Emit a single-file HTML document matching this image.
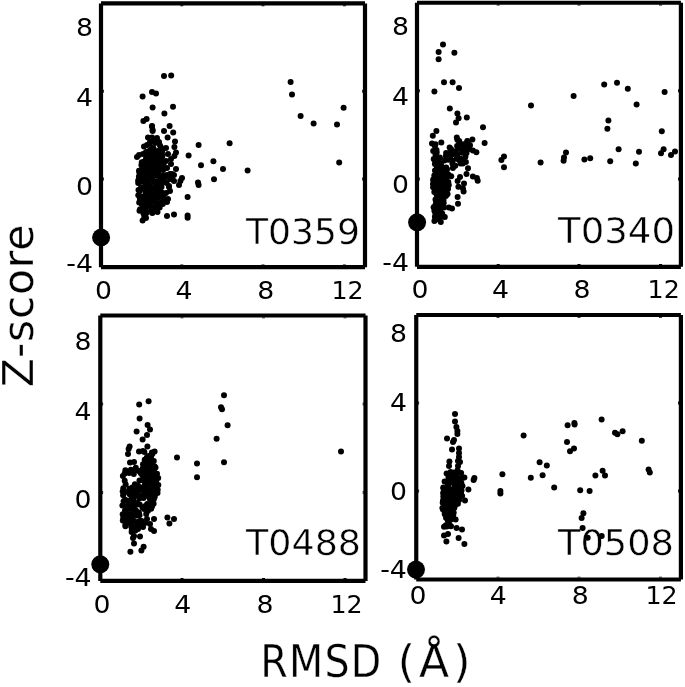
<!DOCTYPE html>
<html lang="en">
<head>
<meta charset="utf-8">
<title>Z-score vs RMSD</title>
<style>
html,body{margin:0;padding:0;background:#fff;}
body{width:685px;height:687px;overflow:hidden;}
svg{display:block;}
text{font-family:"DejaVu Sans", "Liberation Sans", sans-serif;fill:#000;}
.p{stroke:#fff;stroke-width:0.45px;}
.q{stroke:#fff;stroke-width:0.3px;}
.c{font-family:"DejaVu Sans Condensed","DejaVu Sans","Liberation Sans",sans-serif;}
.f{fill:none;stroke:#000;stroke-width:4.2;stroke-linejoin:miter;}
</style>
</head>
<body>
<svg width="685" height="687" viewBox="0 0 685 687">
<rect x="0" y="0" width="685" height="687" fill="#fff"/>
<path class="f" d="M101.0 3.4H365.0M365.0 3.4V267.2M365.0 267.2H101.0M101.0 267.2V3.4"/>
<path d="M181.8 265.3v-0.9M181.8 5.3v0.9M263 265.3v-0.9M263 5.3v0.9M344.4 265.3v-0.9M344.4 5.3v0.9M102.9 91.2h0.9M363.1 91.2h-0.9M102.9 179h0.9M363.1 179h-0.9" fill="none" stroke="#000" stroke-width="3"/>
<path class="f" d="M417.0 2.75H680.9M680.9 2.75V266.8M680.9 266.8H417.0M417.0 266.8V2.75"/>
<path d="M498.2 264.9v-0.9M498.2 4.6v0.9M579 264.9v-0.9M579 4.6v0.9M660.5 264.9v-0.9M660.5 4.6v0.9M418.9 90.7h0.9M679.0 90.7h-0.9M418.9 179h0.9M679.0 179h-0.9" fill="none" stroke="#000" stroke-width="3"/>
<path class="f" d="M100.3 315.5H365.5M365.5 315.5V580.9M365.5 580.9H100.3M100.3 580.9V315.5"/>
<path d="M182 579.0v-0.9M182 317.4v0.9M263.5 579.0v-0.9M263.5 317.4v0.9M345 579.0v-0.9M345 317.4v0.9M102.2 404h0.9M363.6 404h-0.9M102.2 492.4h0.9M363.6 492.4h-0.9" fill="none" stroke="#000" stroke-width="3"/>
<path class="f" d="M416.25 315.0H680.9M680.9 315.0V579.5M680.9 579.5H416.25M416.25 579.5V315.0"/>
<path d="M498 577.6v-0.9M498 316.9v0.9M579 577.6v-0.9M579 316.9v0.9M660.5 577.6v-0.9M660.5 316.9v0.9M418.2 403h0.9M679.0 403h-0.9M418.2 491h0.9M679.0 491h-0.9" fill="none" stroke="#000" stroke-width="3"/>
<text x="93.0" y="36.4" font-size="24.8" text-anchor="end" textLength="17.0" lengthAdjust="spacingAndGlyphs">8</text>
<text x="93.0" y="105.6" font-size="24.8" text-anchor="end" textLength="17.0" lengthAdjust="spacingAndGlyphs">4</text>
<text x="93.0" y="194.7" font-size="24.8" text-anchor="end" textLength="17.0" lengthAdjust="spacingAndGlyphs">0</text>
<text x="93.0" y="272.3" font-size="24.8" text-anchor="end" textLength="26.7" lengthAdjust="spacingAndGlyphs">-4</text>
<text x="409.0" y="35.2" font-size="24.8" text-anchor="end" textLength="17.0" lengthAdjust="spacingAndGlyphs">8</text>
<text x="409.0" y="104.7" font-size="24.8" text-anchor="end" textLength="17.0" lengthAdjust="spacingAndGlyphs">4</text>
<text x="409.0" y="193.4" font-size="24.8" text-anchor="end" textLength="17.0" lengthAdjust="spacingAndGlyphs">0</text>
<text x="409.0" y="270.8" font-size="24.8" text-anchor="end" textLength="26.7" lengthAdjust="spacingAndGlyphs">-4</text>
<text x="91.6" y="350.2" font-size="24.8" text-anchor="end" textLength="17.0" lengthAdjust="spacingAndGlyphs">8</text>
<text x="91.6" y="419.5" font-size="24.8" text-anchor="end" textLength="17.0" lengthAdjust="spacingAndGlyphs">4</text>
<text x="91.6" y="508.2" font-size="24.8" text-anchor="end" textLength="17.0" lengthAdjust="spacingAndGlyphs">0</text>
<text x="91.6" y="586.3" font-size="24.8" text-anchor="end" textLength="26.7" lengthAdjust="spacingAndGlyphs">-4</text>
<text x="406.9" y="341.5" font-size="24.8" text-anchor="end" textLength="17.0" lengthAdjust="spacingAndGlyphs">8</text>
<text x="406.9" y="410.8" font-size="24.8" text-anchor="end" textLength="17.0" lengthAdjust="spacingAndGlyphs">4</text>
<text x="406.9" y="499.6" font-size="24.8" text-anchor="end" textLength="17.0" lengthAdjust="spacingAndGlyphs">0</text>
<text x="406.9" y="578.0" font-size="24.8" text-anchor="end" textLength="26.7" lengthAdjust="spacingAndGlyphs">-4</text>
<text x="103.6" y="298.8" font-size="24.8" text-anchor="middle" textLength="17.0" lengthAdjust="spacingAndGlyphs">0</text>
<text x="184.0" y="298.8" font-size="24.8" text-anchor="middle" textLength="17.0" lengthAdjust="spacingAndGlyphs">4</text>
<text x="265.8" y="298.8" font-size="24.8" text-anchor="middle" textLength="17.0" lengthAdjust="spacingAndGlyphs">8</text>
<text x="347.5" y="298.8" font-size="24.8" text-anchor="middle" textLength="32.2" lengthAdjust="spacingAndGlyphs">12</text>
<text x="419.9" y="298.2" font-size="24.8" text-anchor="middle" textLength="17.0" lengthAdjust="spacingAndGlyphs">0</text>
<text x="500.5" y="298.2" font-size="24.8" text-anchor="middle" textLength="17.0" lengthAdjust="spacingAndGlyphs">4</text>
<text x="582.0" y="298.2" font-size="24.8" text-anchor="middle" textLength="17.0" lengthAdjust="spacingAndGlyphs">8</text>
<text x="663.7" y="298.2" font-size="24.8" text-anchor="middle" textLength="32.2" lengthAdjust="spacingAndGlyphs">12</text>
<text x="101.9" y="613.0" font-size="24.8" text-anchor="middle" textLength="17.0" lengthAdjust="spacingAndGlyphs">0</text>
<text x="182.7" y="613.0" font-size="24.8" text-anchor="middle" textLength="17.0" lengthAdjust="spacingAndGlyphs">4</text>
<text x="265.0" y="613.0" font-size="24.8" text-anchor="middle" textLength="17.0" lengthAdjust="spacingAndGlyphs">8</text>
<text x="346.5" y="613.0" font-size="24.8" text-anchor="middle" textLength="32.2" lengthAdjust="spacingAndGlyphs">12</text>
<text x="418.1" y="604.0" font-size="24.8" text-anchor="middle" textLength="17.0" lengthAdjust="spacingAndGlyphs">0</text>
<text x="498.3" y="604.0" font-size="24.8" text-anchor="middle" textLength="17.0" lengthAdjust="spacingAndGlyphs">4</text>
<text x="580.3" y="604.0" font-size="24.8" text-anchor="middle" textLength="17.0" lengthAdjust="spacingAndGlyphs">8</text>
<text x="661.5" y="604.0" font-size="24.8" text-anchor="middle" textLength="32.2" lengthAdjust="spacingAndGlyphs">12</text>
<text x="246.0" y="243.8" font-size="35.5" text-anchor="start" class="p" textLength="114" lengthAdjust="spacingAndGlyphs">T0359</text>
<text x="558.0" y="243.4" font-size="35.5" text-anchor="start" class="p" textLength="117" lengthAdjust="spacingAndGlyphs">T0340</text>
<text x="246.0" y="554.8" font-size="35.5" text-anchor="start" class="p" textLength="115" lengthAdjust="spacingAndGlyphs">T0488</text>
<text x="558.0" y="555.0" font-size="35.5" text-anchor="start" class="p" textLength="116" lengthAdjust="spacingAndGlyphs">T0508</text>
<text x="260.3" y="676.8" font-size="44" class="c q" textLength="121" lengthAdjust="spacing">RMSD</text>
<text x="397.8" y="676.8" font-size="44" class="q" textLength="72.5" lengthAdjust="spacing">(Å)</text>
<text transform="translate(33.2,387.2) rotate(-90)" font-size="42.5" class="q" textLength="162.5" lengthAdjust="spacing">Z-score</text>
<g fill="#000">
<circle cx="164.0" cy="76.0" r="3.0"/><circle cx="171.2" cy="75.6" r="3.0"/><circle cx="152.0" cy="92.0" r="3.0"/><circle cx="156.0" cy="93.4" r="3.0"/><circle cx="142.6" cy="96.4" r="3.0"/><circle cx="152.6" cy="107.6" r="3.0"/>
<circle cx="173.0" cy="106.8" r="3.0"/><circle cx="164.4" cy="113.4" r="3.0"/><circle cx="146.6" cy="119.0" r="3.0"/><circle cx="143.4" cy="121.0" r="3.0"/><circle cx="152.0" cy="126.0" r="3.0"/><circle cx="152.6" cy="130.0" r="3.0"/>
<circle cx="169.6" cy="126.0" r="3.0"/><circle cx="164.0" cy="131.0" r="3.0"/><circle cx="173.2" cy="132.4" r="3.0"/><circle cx="167.6" cy="137.6" r="3.0"/><circle cx="175.0" cy="141.4" r="3.0"/><circle cx="198.6" cy="145.0" r="3.0"/>
<circle cx="229.6" cy="143.2" r="3.0"/><circle cx="174.4" cy="147.0" r="3.0"/><circle cx="176.0" cy="152.4" r="3.0"/><circle cx="188.6" cy="155.6" r="3.0"/><circle cx="174.4" cy="156.0" r="3.0"/><circle cx="213.4" cy="161.2" r="3.0"/>
<circle cx="201.0" cy="165.2" r="3.0"/><circle cx="223.0" cy="169.0" r="3.0"/><circle cx="247.6" cy="170.5" r="3.0"/><circle cx="176.0" cy="169.0" r="3.0"/><circle cx="214.0" cy="179.2" r="3.0"/><circle cx="198.0" cy="182.4" r="3.0"/>
<circle cx="198.6" cy="185.0" r="3.0"/><circle cx="182.0" cy="178.0" r="3.0"/><circle cx="180.4" cy="181.0" r="3.0"/><circle cx="179.0" cy="185.0" r="3.0"/><circle cx="187.6" cy="197.0" r="3.0"/><circle cx="174.0" cy="214.6" r="3.0"/>
<circle cx="167.0" cy="216.0" r="3.0"/><circle cx="187.6" cy="215.6" r="3.0"/><circle cx="187.6" cy="217.8" r="3.0"/><circle cx="142.6" cy="220.4" r="3.0"/><circle cx="146.0" cy="218.0" r="3.0"/><circle cx="290.6" cy="82.0" r="3.0"/>
<circle cx="292.0" cy="94.6" r="3.0"/><circle cx="300.6" cy="116.0" r="3.0"/><circle cx="313.6" cy="123.6" r="3.0"/><circle cx="337.0" cy="124.6" r="3.0"/><circle cx="343.6" cy="107.8" r="3.0"/><circle cx="339.2" cy="162.4" r="3.0"/>
<circle cx="152.0" cy="126.6" r="3.0"/><circle cx="152.6" cy="131.0" r="3.0"/><circle cx="148.0" cy="137.4" r="3.0"/><circle cx="151.0" cy="140.0" r="3.0"/><circle cx="157.0" cy="138.0" r="3.0"/><circle cx="159.0" cy="142.0" r="3.0"/>
<circle cx="147.0" cy="145.0" r="3.0"/><circle cx="144.0" cy="146.6" r="3.0"/><circle cx="153.0" cy="148.0" r="3.0"/><circle cx="161.0" cy="147.4" r="3.0"/><circle cx="158.0" cy="151.0" r="3.0"/><circle cx="166.0" cy="148.0" r="3.0"/>
<circle cx="139.0" cy="155.0" r="3.0"/><circle cx="137.0" cy="157.0" r="3.0"/><circle cx="168.0" cy="154.0" r="3.0"/><circle cx="171.0" cy="164.0" r="3.0"/><circle cx="170.0" cy="174.0" r="3.0"/><circle cx="174.0" cy="175.0" r="3.0"/>
<circle cx="172.0" cy="179.0" r="3.0"/><circle cx="169.0" cy="187.0" r="3.0"/><circle cx="170.0" cy="191.0" r="3.0"/><circle cx="168.0" cy="199.0" r="3.0"/><circle cx="167.0" cy="202.0" r="3.0"/><circle cx="171.0" cy="159.0" r="3.0"/>
<circle cx="167.0" cy="168.0" r="3.0"/><circle cx="172.0" cy="174.0" r="3.0"/><circle cx="170.0" cy="179.0" r="3.0"/><circle cx="174.0" cy="181.0" r="3.0"/><circle cx="169.0" cy="186.0" r="3.0"/><circle cx="166.0" cy="161.0" r="3.0"/>
<circle cx="167.0" cy="175.0" r="3.0"/><circle cx="166.6" cy="183.0" r="3.0"/><circle cx="166.0" cy="193.0" r="3.0"/><circle cx="152.0" cy="137.6" r="3.0"/><circle cx="156.0" cy="141.6" r="3.0"/><circle cx="149.6" cy="144.0" r="3.0"/>
<circle cx="160.0" cy="145.6" r="3.0"/><circle cx="153.6" cy="148.8" r="3.0"/><circle cx="162.4" cy="149.6" r="3.0"/><circle cx="150.0" cy="142.0" r="3.0"/><circle cx="155.0" cy="143.0" r="3.0"/><circle cx="150.0" cy="150.0" r="3.0"/>
<circle cx="157.0" cy="152.0" r="3.0"/><circle cx="162.0" cy="152.0" r="3.0"/><circle cx="146.0" cy="152.0" r="3.0"/><circle cx="143.0" cy="154.0" r="3.0"/><circle cx="150.8" cy="151.0" r="3.0"/><circle cx="152.4" cy="150.6" r="3.0"/>
<circle cx="156.5" cy="152.5" r="3.0"/><circle cx="147.5" cy="155.0" r="3.0"/><circle cx="151.5" cy="154.2" r="3.0"/><circle cx="156.0" cy="155.3" r="3.0"/><circle cx="158.1" cy="155.0" r="3.0"/><circle cx="162.5" cy="155.8" r="3.0"/>
<circle cx="146.0" cy="158.6" r="3.0"/><circle cx="148.8" cy="157.9" r="3.0"/><circle cx="152.1" cy="158.4" r="3.0"/><circle cx="157.7" cy="158.1" r="3.0"/><circle cx="161.7" cy="157.4" r="3.0"/><circle cx="141.8" cy="162.3" r="3.0"/>
<circle cx="144.3" cy="161.5" r="3.0"/><circle cx="146.8" cy="161.6" r="3.0"/><circle cx="152.0" cy="162.4" r="3.0"/><circle cx="156.1" cy="160.4" r="3.0"/><circle cx="158.5" cy="161.5" r="3.0"/><circle cx="161.1" cy="160.9" r="3.0"/>
<circle cx="141.4" cy="164.9" r="3.0"/><circle cx="145.2" cy="163.5" r="3.0"/><circle cx="149.5" cy="165.2" r="3.0"/><circle cx="152.2" cy="164.0" r="3.0"/><circle cx="157.1" cy="165.2" r="3.0"/><circle cx="161.5" cy="165.2" r="3.0"/>
<circle cx="163.6" cy="163.9" r="3.0"/><circle cx="142.1" cy="166.3" r="3.0"/><circle cx="143.5" cy="166.5" r="3.0"/><circle cx="147.3" cy="167.2" r="3.0"/><circle cx="151.8" cy="166.6" r="3.0"/><circle cx="153.8" cy="167.1" r="3.0"/>
<circle cx="158.4" cy="167.5" r="3.0"/><circle cx="163.7" cy="167.8" r="3.0"/><circle cx="139.0" cy="170.8" r="3.0"/><circle cx="143.1" cy="169.2" r="3.0"/><circle cx="147.3" cy="171.2" r="3.0"/><circle cx="150.8" cy="171.3" r="3.0"/>
<circle cx="153.1" cy="170.1" r="3.0"/><circle cx="155.9" cy="170.8" r="3.0"/><circle cx="159.4" cy="169.2" r="3.0"/><circle cx="163.4" cy="169.5" r="3.0"/><circle cx="139.4" cy="172.6" r="3.0"/><circle cx="143.3" cy="173.2" r="3.0"/>
<circle cx="146.7" cy="174.6" r="3.0"/><circle cx="151.9" cy="172.6" r="3.0"/><circle cx="154.5" cy="173.1" r="3.0"/><circle cx="158.4" cy="172.5" r="3.0"/><circle cx="163.4" cy="174.9" r="3.0"/><circle cx="138.9" cy="176.6" r="3.0"/>
<circle cx="141.4" cy="175.6" r="3.0"/><circle cx="145.8" cy="176.0" r="3.0"/><circle cx="150.7" cy="175.7" r="3.0"/><circle cx="152.1" cy="178.0" r="3.0"/><circle cx="157.1" cy="175.7" r="3.0"/><circle cx="160.7" cy="175.4" r="3.0"/>
<circle cx="164.3" cy="178.0" r="3.0"/><circle cx="138.2" cy="180.4" r="3.0"/><circle cx="140.1" cy="179.4" r="3.0"/><circle cx="143.5" cy="180.6" r="3.0"/><circle cx="148.1" cy="180.6" r="3.0"/><circle cx="151.1" cy="179.0" r="3.0"/>
<circle cx="156.1" cy="181.2" r="3.0"/><circle cx="159.8" cy="180.7" r="3.0"/><circle cx="163.3" cy="180.5" r="3.0"/><circle cx="138.2" cy="183.0" r="3.0"/><circle cx="142.2" cy="181.6" r="3.0"/><circle cx="144.9" cy="182.3" r="3.0"/>
<circle cx="149.1" cy="183.5" r="3.0"/><circle cx="154.7" cy="182.8" r="3.0"/><circle cx="158.2" cy="184.3" r="3.0"/><circle cx="161.9" cy="182.6" r="3.0"/><circle cx="163.4" cy="182.2" r="3.0"/><circle cx="141.1" cy="187.2" r="3.0"/>
<circle cx="145.4" cy="186.0" r="3.0"/><circle cx="148.4" cy="186.9" r="3.0"/><circle cx="150.4" cy="186.5" r="3.0"/><circle cx="156.3" cy="186.9" r="3.0"/><circle cx="159.5" cy="186.0" r="3.0"/><circle cx="161.5" cy="186.9" r="3.0"/>
<circle cx="138.5" cy="190.1" r="3.0"/><circle cx="143.9" cy="188.9" r="3.0"/><circle cx="145.9" cy="190.5" r="3.0"/><circle cx="150.4" cy="188.3" r="3.0"/><circle cx="152.4" cy="188.2" r="3.0"/><circle cx="158.1" cy="190.1" r="3.0"/>
<circle cx="159.6" cy="190.1" r="3.0"/><circle cx="139.8" cy="191.0" r="3.0"/><circle cx="145.7" cy="192.8" r="3.0"/><circle cx="148.1" cy="193.6" r="3.0"/><circle cx="151.4" cy="193.4" r="3.0"/><circle cx="156.1" cy="191.5" r="3.0"/>
<circle cx="158.1" cy="191.8" r="3.0"/><circle cx="161.7" cy="192.6" r="3.0"/><circle cx="138.3" cy="195.3" r="3.0"/><circle cx="141.6" cy="196.6" r="3.0"/><circle cx="145.8" cy="195.4" r="3.0"/><circle cx="150.0" cy="196.6" r="3.0"/>
<circle cx="153.2" cy="196.6" r="3.0"/><circle cx="157.0" cy="195.6" r="3.0"/><circle cx="160.7" cy="194.1" r="3.0"/><circle cx="164.0" cy="194.6" r="3.0"/><circle cx="139.9" cy="198.5" r="3.0"/><circle cx="145.0" cy="198.8" r="3.0"/>
<circle cx="147.5" cy="198.7" r="3.0"/><circle cx="151.8" cy="199.4" r="3.0"/><circle cx="154.1" cy="198.8" r="3.0"/><circle cx="158.1" cy="198.0" r="3.0"/><circle cx="163.2" cy="198.6" r="3.0"/><circle cx="139.2" cy="202.5" r="3.0"/>
<circle cx="143.8" cy="201.6" r="3.0"/><circle cx="146.5" cy="201.8" r="3.0"/><circle cx="149.8" cy="202.3" r="3.0"/><circle cx="153.3" cy="201.8" r="3.0"/><circle cx="156.9" cy="203.0" r="3.0"/><circle cx="161.2" cy="202.8" r="3.0"/>
<circle cx="141.8" cy="203.9" r="3.0"/><circle cx="143.3" cy="204.7" r="3.0"/><circle cx="146.8" cy="204.1" r="3.0"/><circle cx="150.4" cy="205.4" r="3.0"/><circle cx="156.0" cy="206.0" r="3.0"/><circle cx="157.8" cy="205.5" r="3.0"/>
<circle cx="162.8" cy="203.9" r="3.0"/><circle cx="140.1" cy="209.3" r="3.0"/><circle cx="141.8" cy="209.3" r="3.0"/><circle cx="145.9" cy="208.0" r="3.0"/><circle cx="151.2" cy="208.9" r="3.0"/><circle cx="152.5" cy="207.8" r="3.0"/>
<circle cx="157.0" cy="207.6" r="3.0"/><circle cx="159.7" cy="207.5" r="3.0"/><circle cx="139.5" cy="210.7" r="3.0"/><circle cx="144.7" cy="211.2" r="3.0"/><circle cx="146.8" cy="212.5" r="3.0"/><circle cx="152.4" cy="212.5" r="3.0"/>
<circle cx="154.1" cy="210.5" r="3.0"/><circle cx="157.5" cy="211.9" r="3.0"/><circle cx="143.5" cy="213.6" r="3.0"/><circle cx="145.2" cy="215.4" r="3.0"/><circle cx="152.3" cy="213.0" r="3.0"/><circle cx="144.3" cy="217.0" r="3.0"/>
<circle cx="443.0" cy="44.4" r="3.0"/><circle cx="438.6" cy="52.0" r="3.0"/><circle cx="454.4" cy="52.8" r="3.0"/><circle cx="438.6" cy="59.2" r="3.0"/><circle cx="444.0" cy="82.2" r="3.0"/><circle cx="452.6" cy="82.2" r="3.0"/>
<circle cx="459.0" cy="88.0" r="3.0"/><circle cx="434.4" cy="91.6" r="3.0"/><circle cx="531.0" cy="105.6" r="3.0"/><circle cx="449.8" cy="108.4" r="3.0"/><circle cx="457.4" cy="113.6" r="3.0"/><circle cx="466.8" cy="117.4" r="3.0"/>
<circle cx="458.6" cy="118.2" r="3.0"/><circle cx="456.0" cy="122.4" r="3.0"/><circle cx="483.0" cy="127.2" r="3.0"/><circle cx="436.4" cy="131.0" r="3.0"/><circle cx="432.8" cy="135.8" r="3.0"/><circle cx="456.8" cy="137.5" r="3.0"/>
<circle cx="459.2" cy="141.0" r="3.0"/><circle cx="467.3" cy="141.0" r="3.0"/><circle cx="472.4" cy="139.4" r="3.0"/><circle cx="469.7" cy="145.0" r="3.0"/><circle cx="463.2" cy="144.2" r="3.0"/><circle cx="460.0" cy="145.8" r="3.0"/>
<circle cx="472.9" cy="150.6" r="3.0"/><circle cx="476.4" cy="152.2" r="3.0"/><circle cx="466.5" cy="153.0" r="3.0"/><circle cx="441.3" cy="142.6" r="3.0"/><circle cx="432.0" cy="143.4" r="3.0"/><circle cx="435.5" cy="144.2" r="3.0"/>
<circle cx="449.6" cy="147.4" r="3.0"/><circle cx="484.6" cy="143.0" r="3.0"/><circle cx="468.0" cy="168.2" r="3.0"/><circle cx="466.5" cy="173.9" r="3.0"/><circle cx="472.9" cy="176.6" r="3.0"/><circle cx="476.9" cy="177.9" r="3.0"/>
<circle cx="477.7" cy="180.7" r="3.0"/><circle cx="460.0" cy="177.0" r="3.0"/><circle cx="457.6" cy="181.0" r="3.0"/><circle cx="458.4" cy="186.7" r="3.0"/><circle cx="464.0" cy="183.5" r="3.0"/><circle cx="462.9" cy="188.3" r="3.0"/>
<circle cx="463.6" cy="191.5" r="3.0"/><circle cx="457.6" cy="197.0" r="3.0"/><circle cx="458.0" cy="203.8" r="3.0"/><circle cx="452.0" cy="208.6" r="3.0"/><circle cx="448.8" cy="207.5" r="3.0"/><circle cx="451.2" cy="176.3" r="3.0"/>
<circle cx="448.8" cy="185.0" r="3.0"/><circle cx="448.0" cy="189.0" r="3.0"/><circle cx="447.2" cy="193.9" r="3.0"/><circle cx="444.8" cy="217.0" r="3.0"/><circle cx="440.8" cy="222.0" r="3.0"/><circle cx="434.4" cy="221.0" r="3.0"/>
<circle cx="504.0" cy="156.4" r="3.0"/><circle cx="501.4" cy="160.0" r="3.0"/><circle cx="504.0" cy="167.2" r="3.0"/><circle cx="540.6" cy="162.6" r="3.0"/><circle cx="573.6" cy="96.0" r="3.0"/><circle cx="604.2" cy="84.4" r="3.0"/>
<circle cx="617.0" cy="82.8" r="3.0"/><circle cx="627.8" cy="88.8" r="3.0"/><circle cx="664.6" cy="92.0" r="3.0"/><circle cx="636.6" cy="104.6" r="3.0"/><circle cx="608.4" cy="120.4" r="3.0"/><circle cx="607.4" cy="128.8" r="3.0"/>
<circle cx="661.8" cy="131.2" r="3.0"/><circle cx="618.6" cy="149.2" r="3.0"/><circle cx="639.0" cy="151.8" r="3.0"/><circle cx="663.6" cy="149.2" r="3.0"/><circle cx="661.0" cy="153.2" r="3.0"/><circle cx="675.0" cy="151.4" r="3.0"/>
<circle cx="671.0" cy="155.0" r="3.0"/><circle cx="566.0" cy="152.4" r="3.0"/><circle cx="564.0" cy="157.6" r="3.0"/><circle cx="563.6" cy="160.8" r="3.0"/><circle cx="584.4" cy="159.6" r="3.0"/><circle cx="590.2" cy="158.2" r="3.0"/>
<circle cx="610.2" cy="161.2" r="3.0"/><circle cx="635.8" cy="163.6" r="3.0"/><circle cx="434.9" cy="146.1" r="3.0"/><circle cx="436.5" cy="150.1" r="3.0"/><circle cx="433.2" cy="151.0" r="3.0"/><circle cx="436.7" cy="152.5" r="3.0"/>
<circle cx="435.5" cy="154.7" r="3.0"/><circle cx="433.7" cy="158.9" r="3.0"/><circle cx="437.2" cy="157.4" r="3.0"/><circle cx="439.9" cy="157.5" r="3.0"/><circle cx="435.0" cy="160.5" r="3.0"/><circle cx="438.3" cy="159.6" r="3.0"/>
<circle cx="434.9" cy="164.1" r="3.0"/><circle cx="438.2" cy="164.6" r="3.0"/><circle cx="440.8" cy="163.3" r="3.0"/><circle cx="436.9" cy="167.0" r="3.0"/><circle cx="440.0" cy="167.4" r="3.0"/><circle cx="441.9" cy="166.7" r="3.0"/>
<circle cx="446.2" cy="167.5" r="3.0"/><circle cx="435.0" cy="170.4" r="3.0"/><circle cx="437.9" cy="170.6" r="3.0"/><circle cx="441.5" cy="170.1" r="3.0"/><circle cx="443.9" cy="168.5" r="3.0"/><circle cx="447.0" cy="169.3" r="3.0"/>
<circle cx="436.1" cy="172.9" r="3.0"/><circle cx="439.7" cy="173.0" r="3.0"/><circle cx="442.8" cy="171.4" r="3.0"/><circle cx="446.9" cy="173.2" r="3.0"/><circle cx="434.3" cy="175.6" r="3.0"/><circle cx="438.1" cy="174.5" r="3.0"/>
<circle cx="441.7" cy="174.9" r="3.0"/><circle cx="443.5" cy="175.0" r="3.0"/><circle cx="448.5" cy="174.8" r="3.0"/><circle cx="433.2" cy="179.6" r="3.0"/><circle cx="436.0" cy="178.2" r="3.0"/><circle cx="439.3" cy="178.9" r="3.0"/>
<circle cx="443.4" cy="178.8" r="3.0"/><circle cx="446.5" cy="177.5" r="3.0"/><circle cx="433.5" cy="180.9" r="3.0"/><circle cx="438.3" cy="181.0" r="3.0"/><circle cx="441.3" cy="180.3" r="3.0"/><circle cx="443.4" cy="180.9" r="3.0"/>
<circle cx="448.3" cy="181.9" r="3.0"/><circle cx="433.0" cy="183.9" r="3.0"/><circle cx="436.0" cy="184.3" r="3.0"/><circle cx="439.3" cy="183.5" r="3.0"/><circle cx="443.7" cy="183.7" r="3.0"/><circle cx="447.3" cy="185.5" r="3.0"/>
<circle cx="433.1" cy="187.3" r="3.0"/><circle cx="438.5" cy="188.5" r="3.0"/><circle cx="441.0" cy="186.8" r="3.0"/><circle cx="443.8" cy="188.4" r="3.0"/><circle cx="447.2" cy="187.6" r="3.0"/><circle cx="437.1" cy="189.4" r="3.0"/>
<circle cx="440.2" cy="190.3" r="3.0"/><circle cx="443.7" cy="190.8" r="3.0"/><circle cx="445.6" cy="191.3" r="3.0"/><circle cx="434.3" cy="192.1" r="3.0"/><circle cx="436.5" cy="193.3" r="3.0"/><circle cx="441.0" cy="192.8" r="3.0"/>
<circle cx="443.6" cy="192.9" r="3.0"/><circle cx="447.5" cy="194.1" r="3.0"/><circle cx="436.8" cy="195.3" r="3.0"/><circle cx="440.4" cy="196.8" r="3.0"/><circle cx="443.8" cy="195.7" r="3.0"/><circle cx="445.9" cy="196.0" r="3.0"/>
<circle cx="435.5" cy="199.4" r="3.0"/><circle cx="437.4" cy="199.0" r="3.0"/><circle cx="440.6" cy="198.1" r="3.0"/><circle cx="443.5" cy="200.0" r="3.0"/><circle cx="436.0" cy="201.4" r="3.0"/><circle cx="439.1" cy="203.3" r="3.0"/>
<circle cx="443.7" cy="202.9" r="3.0"/><circle cx="435.4" cy="205.2" r="3.0"/><circle cx="438.2" cy="204.0" r="3.0"/><circle cx="441.7" cy="205.0" r="3.0"/><circle cx="433.6" cy="207.2" r="3.0"/><circle cx="435.9" cy="207.7" r="3.0"/>
<circle cx="438.9" cy="208.6" r="3.0"/><circle cx="443.9" cy="207.5" r="3.0"/><circle cx="434.4" cy="210.8" r="3.0"/><circle cx="436.9" cy="210.2" r="3.0"/><circle cx="440.4" cy="212.0" r="3.0"/><circle cx="435.3" cy="213.0" r="3.0"/>
<circle cx="439.0" cy="213.0" r="3.0"/><circle cx="442.2" cy="213.4" r="3.0"/><circle cx="434.9" cy="216.7" r="3.0"/><circle cx="437.5" cy="217.0" r="3.0"/><circle cx="440.8" cy="216.6" r="3.0"/><circle cx="443.4" cy="216.4" r="3.0"/>
<circle cx="436.9" cy="219.2" r="3.0"/><circle cx="438.9" cy="219.3" r="3.0"/><circle cx="457.4" cy="139.8" r="3.0"/><circle cx="459.1" cy="143.5" r="3.0"/><circle cx="467.4" cy="141.6" r="3.0"/><circle cx="457.1" cy="146.0" r="3.0"/>
<circle cx="463.3" cy="146.5" r="3.0"/><circle cx="467.4" cy="146.0" r="3.0"/><circle cx="469.9" cy="145.4" r="3.0"/><circle cx="451.0" cy="149.1" r="3.0"/><circle cx="456.0" cy="151.0" r="3.0"/><circle cx="459.1" cy="148.5" r="3.0"/>
<circle cx="463.7" cy="149.6" r="3.0"/><circle cx="469.0" cy="149.0" r="3.0"/><circle cx="446.1" cy="153.0" r="3.0"/><circle cx="450.0" cy="152.8" r="3.0"/><circle cx="452.6" cy="154.3" r="3.0"/><circle cx="457.1" cy="154.8" r="3.0"/>
<circle cx="462.0" cy="152.7" r="3.0"/><circle cx="465.5" cy="153.3" r="3.0"/><circle cx="445.9" cy="156.1" r="3.0"/><circle cx="450.0" cy="157.0" r="3.0"/><circle cx="456.7" cy="158.4" r="3.0"/><circle cx="460.5" cy="158.7" r="3.0"/>
<circle cx="465.4" cy="156.8" r="3.0"/><circle cx="444.4" cy="160.6" r="3.0"/><circle cx="448.2" cy="159.7" r="3.0"/><circle cx="452.8" cy="160.6" r="3.0"/><circle cx="459.0" cy="160.0" r="3.0"/><circle cx="463.3" cy="160.2" r="3.0"/>
<circle cx="465.9" cy="161.9" r="3.0"/><circle cx="452.4" cy="163.5" r="3.0"/><circle cx="455.3" cy="165.7" r="3.0"/><circle cx="460.6" cy="163.5" r="3.0"/><circle cx="462.8" cy="163.6" r="3.0"/><circle cx="452.9" cy="167.9" r="3.0"/>
<circle cx="224.0" cy="395.2" r="3.0"/><circle cx="221.0" cy="407.2" r="3.0"/><circle cx="222.0" cy="409.2" r="3.0"/><circle cx="227.6" cy="425.2" r="3.0"/><circle cx="216.6" cy="438.8" r="3.0"/><circle cx="224.0" cy="462.2" r="3.0"/>
<circle cx="197.0" cy="463.6" r="3.0"/><circle cx="197.0" cy="477.2" r="3.0"/><circle cx="177.0" cy="457.4" r="3.0"/><circle cx="148.6" cy="401.2" r="3.0"/><circle cx="139.2" cy="404.6" r="3.0"/><circle cx="139.6" cy="418.4" r="3.0"/>
<circle cx="147.6" cy="425.0" r="3.0"/><circle cx="150.0" cy="429.4" r="3.0"/><circle cx="136.6" cy="431.6" r="3.0"/><circle cx="147.0" cy="435.0" r="3.0"/><circle cx="142.6" cy="439.6" r="3.0"/><circle cx="129.6" cy="446.6" r="3.0"/>
<circle cx="147.4" cy="446.4" r="3.0"/><circle cx="128.6" cy="449.0" r="3.0"/><circle cx="128.0" cy="454.0" r="3.0"/><circle cx="139.0" cy="451.6" r="3.0"/><circle cx="143.0" cy="451.0" r="3.0"/><circle cx="144.4" cy="452.0" r="3.0"/>
<circle cx="154.6" cy="451.6" r="3.0"/><circle cx="151.0" cy="457.0" r="3.0"/><circle cx="130.0" cy="462.4" r="3.0"/><circle cx="134.0" cy="462.0" r="3.0"/><circle cx="140.0" cy="536.4" r="3.0"/><circle cx="133.0" cy="538.0" r="3.0"/>
<circle cx="134.0" cy="543.6" r="3.0"/><circle cx="143.6" cy="546.8" r="3.0"/><circle cx="141.4" cy="550.6" r="3.0"/><circle cx="130.4" cy="551.8" r="3.0"/><circle cx="167.4" cy="517.6" r="3.0"/><circle cx="174.0" cy="519.0" r="3.0"/>
<circle cx="169.4" cy="523.6" r="3.0"/><circle cx="154.0" cy="519.0" r="3.0"/><circle cx="150.0" cy="524.0" r="3.0"/><circle cx="154.0" cy="531.0" r="3.0"/><circle cx="151.0" cy="529.0" r="3.0"/><circle cx="341.0" cy="451.4" r="3.0"/>
<circle cx="131.6" cy="532.0" r="3.0"/><circle cx="134.0" cy="536.0" r="3.0"/><circle cx="131.8" cy="529.7" r="3.0"/><circle cx="147.0" cy="519.0" r="3.0"/><circle cx="143.0" cy="527.0" r="3.0"/><circle cx="138.0" cy="529.0" r="3.0"/>
<circle cx="145.0" cy="523.0" r="3.0"/><circle cx="151.9" cy="452.6" r="3.0"/><circle cx="148.5" cy="455.9" r="3.0"/><circle cx="152.3" cy="454.1" r="3.0"/><circle cx="144.7" cy="459.7" r="3.0"/><circle cx="146.8" cy="457.4" r="3.0"/>
<circle cx="150.1" cy="458.4" r="3.0"/><circle cx="146.2" cy="462.6" r="3.0"/><circle cx="149.7" cy="460.7" r="3.0"/><circle cx="153.8" cy="461.1" r="3.0"/><circle cx="143.0" cy="464.2" r="3.0"/><circle cx="146.5" cy="465.9" r="3.0"/>
<circle cx="151.3" cy="464.4" r="3.0"/><circle cx="154.5" cy="466.2" r="3.0"/><circle cx="142.7" cy="468.5" r="3.0"/><circle cx="146.8" cy="467.1" r="3.0"/><circle cx="149.2" cy="468.9" r="3.0"/><circle cx="153.8" cy="469.2" r="3.0"/>
<circle cx="155.5" cy="467.6" r="3.0"/><circle cx="144.9" cy="471.5" r="3.0"/><circle cx="148.5" cy="471.0" r="3.0"/><circle cx="152.1" cy="471.2" r="3.0"/><circle cx="154.2" cy="472.0" r="3.0"/><circle cx="142.1" cy="474.8" r="3.0"/>
<circle cx="144.8" cy="474.2" r="3.0"/><circle cx="148.3" cy="473.8" r="3.0"/><circle cx="152.3" cy="474.8" r="3.0"/><circle cx="157.0" cy="473.8" r="3.0"/><circle cx="144.2" cy="476.9" r="3.0"/><circle cx="146.9" cy="477.0" r="3.0"/>
<circle cx="151.9" cy="477.9" r="3.0"/><circle cx="153.7" cy="476.7" r="3.0"/><circle cx="158.2" cy="477.9" r="3.0"/><circle cx="142.2" cy="479.9" r="3.0"/><circle cx="144.7" cy="481.5" r="3.0"/><circle cx="149.0" cy="480.4" r="3.0"/>
<circle cx="152.4" cy="482.1" r="3.0"/><circle cx="156.2" cy="481.1" r="3.0"/><circle cx="144.6" cy="485.5" r="3.0"/><circle cx="147.0" cy="483.4" r="3.0"/><circle cx="151.7" cy="483.4" r="3.0"/><circle cx="153.5" cy="485.2" r="3.0"/>
<circle cx="158.3" cy="485.0" r="3.0"/><circle cx="141.6" cy="488.4" r="3.0"/><circle cx="145.4" cy="486.5" r="3.0"/><circle cx="148.0" cy="487.5" r="3.0"/><circle cx="153.3" cy="488.5" r="3.0"/><circle cx="155.6" cy="487.7" r="3.0"/>
<circle cx="142.8" cy="490.1" r="3.0"/><circle cx="147.5" cy="491.7" r="3.0"/><circle cx="150.1" cy="490.6" r="3.0"/><circle cx="155.6" cy="491.8" r="3.0"/><circle cx="157.7" cy="489.7" r="3.0"/><circle cx="143.0" cy="495.1" r="3.0"/>
<circle cx="145.5" cy="492.7" r="3.0"/><circle cx="150.4" cy="493.6" r="3.0"/><circle cx="154.0" cy="494.2" r="3.0"/><circle cx="157.5" cy="493.0" r="3.0"/><circle cx="140.7" cy="496.3" r="3.0"/><circle cx="143.5" cy="498.0" r="3.0"/>
<circle cx="148.3" cy="496.2" r="3.0"/><circle cx="150.4" cy="496.8" r="3.0"/><circle cx="154.8" cy="496.8" r="3.0"/><circle cx="149.9" cy="499.1" r="3.0"/><circle cx="153.8" cy="499.3" r="3.0"/><circle cx="147.2" cy="503.9" r="3.0"/>
<circle cx="151.0" cy="503.3" r="3.0"/><circle cx="153.6" cy="503.8" r="3.0"/><circle cx="142.5" cy="507.5" r="3.0"/><circle cx="145.4" cy="505.9" r="3.0"/><circle cx="149.2" cy="505.7" r="3.0"/><circle cx="152.0" cy="506.5" r="3.0"/>
<circle cx="144.1" cy="508.9" r="3.0"/><circle cx="148.0" cy="510.7" r="3.0"/><circle cx="151.1" cy="508.8" r="3.0"/><circle cx="146.2" cy="514.0" r="3.0"/><circle cx="135.8" cy="467.7" r="3.0"/><circle cx="125.4" cy="470.2" r="3.0"/>
<circle cx="130.9" cy="469.8" r="3.0"/><circle cx="135.6" cy="470.3" r="3.0"/><circle cx="138.9" cy="471.1" r="3.0"/><circle cx="124.7" cy="473.4" r="3.0"/><circle cx="129.2" cy="473.1" r="3.0"/><circle cx="133.8" cy="473.9" r="3.0"/>
<circle cx="140.6" cy="472.9" r="3.0"/><circle cx="122.9" cy="476.1" r="3.0"/><circle cx="124.7" cy="480.7" r="3.0"/><circle cx="139.5" cy="480.5" r="3.0"/><circle cx="125.7" cy="484.6" r="3.0"/><circle cx="134.9" cy="484.3" r="3.0"/>
<circle cx="137.8" cy="485.5" r="3.0"/><circle cx="123.3" cy="488.3" r="3.0"/><circle cx="129.4" cy="488.7" r="3.0"/><circle cx="132.3" cy="487.4" r="3.0"/><circle cx="135.4" cy="488.3" r="3.0"/><circle cx="140.9" cy="487.6" r="3.0"/>
<circle cx="122.7" cy="491.4" r="3.0"/><circle cx="127.5" cy="492.1" r="3.0"/><circle cx="129.8" cy="492.6" r="3.0"/><circle cx="133.4" cy="491.6" r="3.0"/><circle cx="138.5" cy="490.9" r="3.0"/><circle cx="123.1" cy="495.2" r="3.0"/>
<circle cx="129.6" cy="494.2" r="3.0"/><circle cx="131.8" cy="495.4" r="3.0"/><circle cx="136.7" cy="495.5" r="3.0"/><circle cx="125.2" cy="499.7" r="3.0"/><circle cx="131.2" cy="499.2" r="3.0"/><circle cx="133.3" cy="499.6" r="3.0"/>
<circle cx="139.3" cy="498.6" r="3.0"/><circle cx="123.6" cy="501.2" r="3.0"/><circle cx="127.8" cy="501.0" r="3.0"/><circle cx="132.1" cy="502.9" r="3.0"/><circle cx="137.2" cy="503.1" r="3.0"/><circle cx="122.4" cy="505.6" r="3.0"/>
<circle cx="127.1" cy="505.9" r="3.0"/><circle cx="129.9" cy="506.2" r="3.0"/><circle cx="135.8" cy="505.1" r="3.0"/><circle cx="139.7" cy="504.5" r="3.0"/><circle cx="125.0" cy="510.5" r="3.0"/><circle cx="129.1" cy="508.9" r="3.0"/>
<circle cx="133.5" cy="508.9" r="3.0"/><circle cx="136.0" cy="510.4" r="3.0"/><circle cx="122.7" cy="514.2" r="3.0"/><circle cx="126.3" cy="513.8" r="3.0"/><circle cx="131.0" cy="513.9" r="3.0"/><circle cx="134.4" cy="513.5" r="3.0"/>
<circle cx="138.9" cy="512.4" r="3.0"/><circle cx="123.3" cy="517.6" r="3.0"/><circle cx="127.5" cy="515.3" r="3.0"/><circle cx="131.5" cy="517.6" r="3.0"/><circle cx="136.2" cy="515.6" r="3.0"/><circle cx="139.5" cy="515.3" r="3.0"/>
<circle cx="122.8" cy="520.4" r="3.0"/><circle cx="126.9" cy="520.7" r="3.0"/><circle cx="129.4" cy="520.3" r="3.0"/><circle cx="134.2" cy="520.9" r="3.0"/><circle cx="139.5" cy="521.1" r="3.0"/><circle cx="141.7" cy="521.0" r="3.0"/>
<circle cx="125.4" cy="524.8" r="3.0"/><circle cx="127.4" cy="522.9" r="3.0"/><circle cx="131.5" cy="522.4" r="3.0"/><circle cx="137.6" cy="524.5" r="3.0"/><circle cx="141.1" cy="524.5" r="3.0"/><circle cx="125.4" cy="526.2" r="3.0"/>
<circle cx="131.2" cy="526.4" r="3.0"/><circle cx="134.1" cy="527.0" r="3.0"/><circle cx="137.5" cy="526.6" r="3.0"/><circle cx="135.4" cy="530.5" r="3.0"/><circle cx="455.0" cy="414.0" r="3.0"/><circle cx="455.0" cy="421.4" r="3.0"/>
<circle cx="456.4" cy="427.0" r="3.0"/><circle cx="457.4" cy="431.0" r="3.0"/><circle cx="457.4" cy="434.0" r="3.0"/><circle cx="447.0" cy="438.4" r="3.0"/><circle cx="454.0" cy="440.0" r="3.0"/><circle cx="453.0" cy="442.0" r="3.0"/>
<circle cx="452.0" cy="449.4" r="3.0"/><circle cx="459.0" cy="448.4" r="3.0"/><circle cx="459.0" cy="453.0" r="3.0"/><circle cx="459.0" cy="457.0" r="3.0"/><circle cx="458.0" cy="461.0" r="3.0"/><circle cx="460.0" cy="462.0" r="3.0"/>
<circle cx="449.4" cy="461.6" r="3.0"/><circle cx="449.0" cy="466.0" r="3.0"/><circle cx="458.0" cy="466.0" r="3.0"/><circle cx="446.6" cy="473.6" r="3.0"/><circle cx="523.6" cy="435.4" r="3.0"/><circle cx="539.6" cy="462.2" r="3.0"/>
<circle cx="546.8" cy="465.6" r="3.0"/><circle cx="542.6" cy="475.2" r="3.0"/><circle cx="530.8" cy="477.8" r="3.0"/><circle cx="502.4" cy="474.2" r="3.0"/><circle cx="500.4" cy="491.0" r="3.0"/><circle cx="500.4" cy="493.4" r="3.0"/>
<circle cx="474.4" cy="478.0" r="3.0"/><circle cx="473.6" cy="480.0" r="3.0"/><circle cx="468.4" cy="489.6" r="3.0"/><circle cx="464.4" cy="477.4" r="3.0"/><circle cx="465.0" cy="500.4" r="3.0"/><circle cx="443.0" cy="500.6" r="3.0"/>
<circle cx="442.4" cy="508.0" r="3.0"/><circle cx="455.6" cy="519.6" r="3.0"/><circle cx="462.0" cy="529.6" r="3.0"/><circle cx="456.6" cy="528.0" r="3.0"/><circle cx="458.6" cy="538.0" r="3.0"/><circle cx="464.4" cy="544.0" r="3.0"/>
<circle cx="446.4" cy="541.6" r="3.0"/><circle cx="444.0" cy="535.6" r="3.0"/><circle cx="448.0" cy="534.0" r="3.0"/><circle cx="601.6" cy="419.6" r="3.0"/><circle cx="567.6" cy="425.2" r="3.0"/><circle cx="574.4" cy="423.0" r="3.0"/>
<circle cx="574.6" cy="424.6" r="3.0"/><circle cx="615.0" cy="432.8" r="3.0"/><circle cx="617.4" cy="434.2" r="3.0"/><circle cx="622.6" cy="431.2" r="3.0"/><circle cx="641.8" cy="440.8" r="3.0"/><circle cx="567.0" cy="442.0" r="3.0"/>
<circle cx="574.0" cy="448.6" r="3.0"/><circle cx="570.0" cy="451.2" r="3.0"/><circle cx="602.6" cy="470.8" r="3.0"/><circle cx="605.0" cy="475.4" r="3.0"/><circle cx="595.4" cy="475.4" r="3.0"/><circle cx="648.6" cy="469.6" r="3.0"/>
<circle cx="649.8" cy="472.6" r="3.0"/><circle cx="554.2" cy="487.4" r="3.0"/><circle cx="580.2" cy="490.2" r="3.0"/><circle cx="589.6" cy="491.0" r="3.0"/><circle cx="583.4" cy="513.2" r="3.0"/><circle cx="581.6" cy="518.0" r="3.0"/>
<circle cx="582.6" cy="528.0" r="3.0"/><circle cx="587.7" cy="537.8" r="3.0"/><circle cx="601.7" cy="536.0" r="3.0"/><circle cx="450.6" cy="472.1" r="3.0"/><circle cx="453.9" cy="472.4" r="3.0"/><circle cx="457.6" cy="470.3" r="3.0"/>
<circle cx="449.8" cy="475.1" r="3.0"/><circle cx="453.2" cy="473.9" r="3.0"/><circle cx="456.1" cy="474.0" r="3.0"/><circle cx="461.1" cy="473.1" r="3.0"/><circle cx="448.5" cy="477.4" r="3.0"/><circle cx="450.7" cy="478.5" r="3.0"/>
<circle cx="453.9" cy="477.3" r="3.0"/><circle cx="458.3" cy="478.1" r="3.0"/><circle cx="462.5" cy="477.8" r="3.0"/><circle cx="444.6" cy="481.5" r="3.0"/><circle cx="449.7" cy="481.2" r="3.0"/><circle cx="451.9" cy="480.4" r="3.0"/>
<circle cx="457.2" cy="480.7" r="3.0"/><circle cx="459.0" cy="480.4" r="3.0"/><circle cx="448.0" cy="484.6" r="3.0"/><circle cx="450.0" cy="482.7" r="3.0"/><circle cx="453.9" cy="483.2" r="3.0"/><circle cx="458.3" cy="482.7" r="3.0"/>
<circle cx="461.3" cy="482.8" r="3.0"/><circle cx="443.3" cy="487.4" r="3.0"/><circle cx="444.5" cy="488.1" r="3.0"/><circle cx="448.1" cy="486.5" r="3.0"/><circle cx="454.2" cy="487.6" r="3.0"/><circle cx="457.1" cy="486.6" r="3.0"/>
<circle cx="459.1" cy="487.2" r="3.0"/><circle cx="462.5" cy="486.0" r="3.0"/><circle cx="443.5" cy="488.6" r="3.0"/><circle cx="447.1" cy="490.7" r="3.0"/><circle cx="451.5" cy="489.9" r="3.0"/><circle cx="455.0" cy="489.8" r="3.0"/>
<circle cx="457.2" cy="490.2" r="3.0"/><circle cx="461.5" cy="490.6" r="3.0"/><circle cx="443.1" cy="492.9" r="3.0"/><circle cx="445.8" cy="493.8" r="3.0"/><circle cx="449.0" cy="492.3" r="3.0"/><circle cx="453.4" cy="494.1" r="3.0"/>
<circle cx="457.2" cy="493.6" r="3.0"/><circle cx="461.0" cy="493.6" r="3.0"/><circle cx="443.3" cy="496.5" r="3.0"/><circle cx="446.3" cy="496.0" r="3.0"/><circle cx="451.8" cy="496.8" r="3.0"/><circle cx="455.0" cy="495.5" r="3.0"/>
<circle cx="458.0" cy="496.1" r="3.0"/><circle cx="462.1" cy="495.9" r="3.0"/><circle cx="444.7" cy="499.8" r="3.0"/><circle cx="450.0" cy="499.0" r="3.0"/><circle cx="452.8" cy="500.6" r="3.0"/><circle cx="455.1" cy="499.4" r="3.0"/>
<circle cx="459.1" cy="500.1" r="3.0"/><circle cx="442.7" cy="502.7" r="3.0"/><circle cx="447.5" cy="503.1" r="3.0"/><circle cx="451.0" cy="502.8" r="3.0"/><circle cx="455.5" cy="502.5" r="3.0"/><circle cx="457.9" cy="503.7" r="3.0"/>
<circle cx="444.5" cy="506.9" r="3.0"/><circle cx="448.8" cy="504.3" r="3.0"/><circle cx="452.2" cy="505.3" r="3.0"/><circle cx="455.0" cy="505.4" r="3.0"/><circle cx="443.0" cy="509.4" r="3.0"/><circle cx="448.6" cy="508.8" r="3.0"/>
<circle cx="450.2" cy="509.6" r="3.0"/><circle cx="454.3" cy="507.9" r="3.0"/><circle cx="444.8" cy="513.1" r="3.0"/><circle cx="448.8" cy="512.2" r="3.0"/><circle cx="453.7" cy="512.7" r="3.0"/><circle cx="444.8" cy="514.3" r="3.0"/>
<circle cx="447.1" cy="514.3" r="3.0"/><circle cx="450.8" cy="514.1" r="3.0"/><circle cx="453.2" cy="515.6" r="3.0"/><circle cx="446.0" cy="517.7" r="3.0"/><circle cx="450.4" cy="519.1" r="3.0"/><circle cx="451.6" cy="519.0" r="3.0"/>
<circle cx="447.8" cy="520.5" r="3.0"/><circle cx="449.9" cy="520.2" r="3.0"/><circle cx="445.9" cy="525.2" r="3.0"/><circle cx="449.7" cy="525.5" r="3.0"/><circle cx="444.0" cy="526.8" r="3.0"/><circle cx="446.7" cy="526.5" r="3.0"/>
<circle cx="451.0" cy="526.3" r="3.0"/>
<circle cx="101.1" cy="237.5" r="9"/>
<circle cx="417.1" cy="222.3" r="9"/>
<circle cx="100.3" cy="564.3" r="9"/>
<circle cx="416.0" cy="569.6" r="9"/>
</g>
</svg>
</body>
</html>
